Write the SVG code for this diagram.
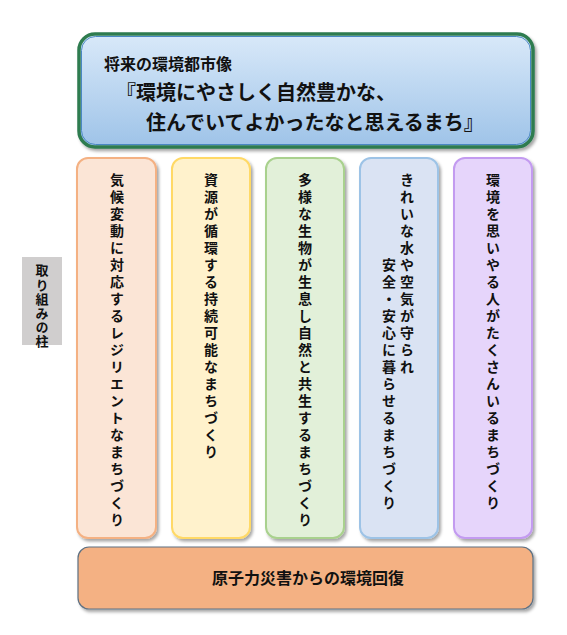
<svg xmlns="http://www.w3.org/2000/svg" width="567" height="635" viewBox="0 0 567 635">
<defs>
<linearGradient id="skyGrad" x1="0" y1="0" x2="0" y2="1">
<stop offset="0" stop-color="#d9e9f9"/>
<stop offset="1" stop-color="#9ec3e8"/>
</linearGradient>
<filter id="shadow" x="-10%" y="-10%" width="125%" height="125%">
<feDropShadow dx="2" dy="2.5" stdDeviation="1.6" flood-color="#000" flood-opacity="0.35"/>
</filter>
</defs>
<style>
text{font-family:"Noto Sans CJK JP","Noto Sans CJK SC",sans-serif;font-weight:bold;fill:#111;}
.v{writing-mode:vertical-rl;font-size:14px;letter-spacing:3px;}
.pillar{stroke-width:2;filter:url(#shadow);}
</style>
<rect width="567" height="635" fill="#fff"/>

<g id="vision">
<rect x="79" y="34" width="454" height="113" rx="16" fill="url(#skyGrad)" stroke="#2f7b50" stroke-width="3.5" filter="url(#shadow)"/>
<rect x="81.5" y="36.5" width="449" height="108" rx="14" fill="none" stroke="#4a88c4" stroke-width="1"/>
<text x="104" y="70" font-size="16">将来の環境都市像</text>
<text x="116" y="100" font-size="20">『環境にやさしく自然豊かな、</text>
<text x="146" y="130" font-size="20">住んでいてよかったなと思えるまち』</text>
</g>

<g id="label">
<rect x="22" y="257" width="40" height="88" fill="#d0cece"/>
<text class="v" x="42" y="264" style="font-size:13px;letter-spacing:1.2px">取り組みの柱</text>
</g>

<g id="pillar1">
<rect class="pillar" x="77" y="158" width="79" height="380" rx="11" fill="#fbe5d6" stroke="#f4b183"/>
<text class="v" x="117" y="173">気候変動に対応するレジリエントなまちづくり</text>
</g>
<g id="pillar2">
<rect class="pillar" x="172" y="158" width="78" height="380" rx="11" fill="#fff2cc" stroke="#ffd966"/>
<text class="v" x="211" y="173">資源が循環する持続可能なまちづくり</text>
</g>
<g id="pillar3">
<rect class="pillar" x="266" y="158" width="78" height="380" rx="11" fill="#e2f0d9" stroke="#a9d18e"/>
<text class="v" x="305" y="173">多様な生物が生息し自然と共生するまちづくり</text>
</g>
<g id="pillar4">
<rect class="pillar" x="360" y="158" width="78" height="380" rx="11" fill="#dae3f3" stroke="#9dc3e6"/>
<text class="v" x="407" y="173">きれいな水や空気が守られ</text>
<text class="v" x="389" y="258">安全・安心に暮らせるまちづくり</text>
</g>
<g id="pillar5">
<rect class="pillar" x="454" y="158" width="78" height="380" rx="11" fill="#e6d5fb" stroke="#c39bf0"/>
<text class="v" x="493" y="173">環境を思いやる人がたくさんいるまちづくり</text>
</g>

<g id="recovery">
<rect x="78" y="547" width="455" height="62" rx="11" fill="#f4b183" stroke="#5e7183" stroke-width="1.2" filter="url(#shadow)"/>
<text x="308" y="584" font-size="16" text-anchor="middle">原子力災害からの環境回復</text>
</g>

<g id="connectors"></g>
</svg>
